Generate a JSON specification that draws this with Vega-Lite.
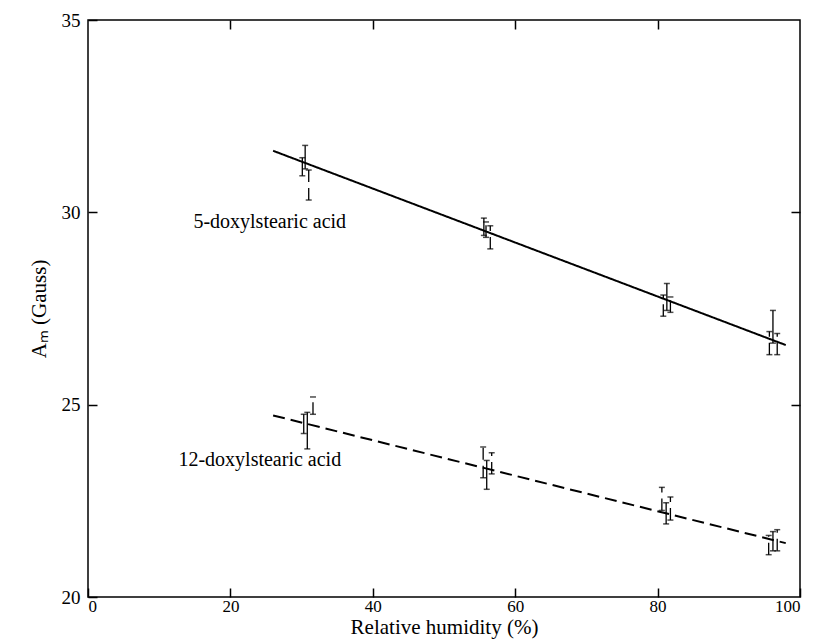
{
  "$schema": "https://vega.github.io/schema/vega-lite/v6.json",
  "width": 712,
  "height": 577,
  "autosize": "none",
  "padding": {"left": 88, "top": 20, "right": 18, "bottom": 47},
  "background": "white",
  "config": {
    "view": {"stroke": "black", "strokeWidth": 1.5},
    "font": "Liberation Serif",
    "axis": {
      "domain": false,
      "grid": false,
      "tickColor": "black",
      "tickSize": -9,
      "tickWidth": 1.5,
      "labelFont": "Liberation Serif",
      "labelFontSize": 19,
      "labelColor": "black",
      "titleFont": "Liberation Serif",
      "titleFontSize": 21,
      "titleFontWeight": "normal",
      "titleColor": "black"
    }
  },
  "datasets": {
    "fits": [
      {"series": "5-doxylstearic acid", "x": 26, "y": 31.6},
      {"series": "5-doxylstearic acid", "x": 98, "y": 26.55},
      {"series": "12-doxylstearic acid", "x": 26, "y": 24.72},
      {"series": "12-doxylstearic acid", "x": 98, "y": 21.4}
    ],
    "bars": [
      {"series": "5", "x": 30.5, "lo": 31.13, "hi": 31.74, "kind": "solid"},
      {"series": "5", "x": 30.1, "lo": 30.95, "hi": 31.42, "kind": "solid"},
      {"series": "5", "x": 31.0, "lo": 30.32, "hi": 31.1, "kind": "dotted"},
      {"series": "5", "x": 55.6, "lo": 29.4, "hi": 29.85, "kind": "solid"},
      {"series": "5", "x": 55.9, "lo": 29.35, "hi": 29.75, "kind": "dotted"},
      {"series": "5", "x": 56.5, "lo": 29.05, "hi": 29.65, "kind": "dotted"},
      {"series": "5", "x": 80.8, "lo": 27.3, "hi": 27.85, "kind": "dotted"},
      {"series": "5", "x": 81.3, "lo": 27.45, "hi": 28.15, "kind": "solid"},
      {"series": "5", "x": 81.8, "lo": 27.4, "hi": 27.8, "kind": "dotted"},
      {"series": "5", "x": 95.7, "lo": 26.3, "hi": 26.9, "kind": "dotted"},
      {"series": "5", "x": 96.2, "lo": 26.6, "hi": 27.45, "kind": "solid"},
      {"series": "5", "x": 96.8, "lo": 26.3, "hi": 26.85, "kind": "dotted"},
      {"series": "12", "x": 30.3, "lo": 24.25, "hi": 24.75, "kind": "solid"},
      {"series": "12", "x": 30.8, "lo": 23.85, "hi": 24.8, "kind": "solid"},
      {"series": "12", "x": 31.6, "lo": 24.75, "hi": 25.2, "kind": "dotted"},
      {"series": "12", "x": 55.5, "lo": 23.1, "hi": 23.9, "kind": "dotted"},
      {"series": "12", "x": 56.0, "lo": 22.8, "hi": 23.55, "kind": "solid"},
      {"series": "12", "x": 56.7, "lo": 23.2, "hi": 23.75, "kind": "dotted"},
      {"series": "12", "x": 80.6, "lo": 22.25, "hi": 22.85, "kind": "dotted"},
      {"series": "12", "x": 81.2, "lo": 21.9, "hi": 22.45, "kind": "solid"},
      {"series": "12", "x": 81.8, "lo": 22.0, "hi": 22.6, "kind": "dotted"},
      {"series": "12", "x": 95.6, "lo": 21.1, "hi": 21.6, "kind": "dotted"},
      {"series": "12", "x": 96.2, "lo": 21.2, "hi": 21.7, "kind": "solid"},
      {"series": "12", "x": 96.8, "lo": 21.2, "hi": 21.75, "kind": "dotted"}
    ],
    "labels": [
      {"text": "5-doxylstearic acid", "x": 14.8, "y": 29.75},
      {"text": "12-doxylstearic acid", "x": 12.7, "y": 23.55}
    ]
  },
  "resolve": {"axis": {"x": "independent", "y": "independent"}},
  "layer": [
    {
      "data": {"name": "fits"},
      "mark": {"type": "line", "color": "black", "strokeWidth": 2},
      "encoding": {
        "x": {"field": "x", "type": "quantitative", "scale": {"domain": [0, 100], "nice": false},
          "axis": {"title": "Relative humidity (%)", "labelFontSize": 17, "values": [0, 20, 40, 60, 80, 100], "labelPadding": 10, "titlePadding": 2}},
        "y": {"field": "y", "type": "quantitative", "scale": {"domain": [20, 35], "nice": false, "zero": false},
          "axis": {"title": "Aₘ (Gauss)", "values": [20, 25, 30, 35], "labelPadding": 17, "titlePadding": 12}},
        "strokeDash": {"field": "series", "type": "nominal", "legend": null,
          "scale": {"domain": ["5-doxylstearic acid", "12-doxylstearic acid"], "range": [[1, 0], [12, 6]]}}
      }
    },
    {
      "data": {"name": "bars"},
      "mark": {"type": "rule", "color": "black", "strokeWidth": 1.3},
      "encoding": {
        "x": {"field": "x", "type": "quantitative", "axis": {"orient": "top", "title": null, "labels": false, "values": [20, 40, 60, 80]}},
        "y": {"field": "lo", "type": "quantitative", "axis": {"orient": "right", "title": null, "labels": false, "values": [25, 30]}},
        "y2": {"field": "hi"},
        "strokeDash": {"field": "kind", "type": "nominal", "legend": null,
          "scale": {"domain": ["solid", "dotted"], "range": [[1, 0], [1.5, 1.5]]}}
      }
    },
    {
      "data": {"name": "bars"},
      "mark": {"type": "tick", "color": "black", "orient": "horizontal", "size": 6, "thickness": 1.5},
      "encoding": {
        "x": {"field": "x", "type": "quantitative", "axis": null},
        "y": {"field": "lo", "type": "quantitative", "axis": null}
      }
    },
    {
      "data": {"name": "bars"},
      "mark": {"type": "tick", "color": "black", "orient": "horizontal", "size": 6, "thickness": 1.5},
      "encoding": {
        "x": {"field": "x", "type": "quantitative", "axis": null},
        "y": {"field": "hi", "type": "quantitative", "axis": null}
      }
    },
    {
      "data": {"name": "labels"},
      "mark": {"type": "text", "align": "left", "baseline": "middle", "fontSize": 20, "font": "Liberation Serif", "color": "black"},
      "encoding": {
        "x": {"field": "x", "type": "quantitative", "axis": null},
        "y": {"field": "y", "type": "quantitative", "axis": null},
        "text": {"field": "text"}
      }
    }
  ]
}
